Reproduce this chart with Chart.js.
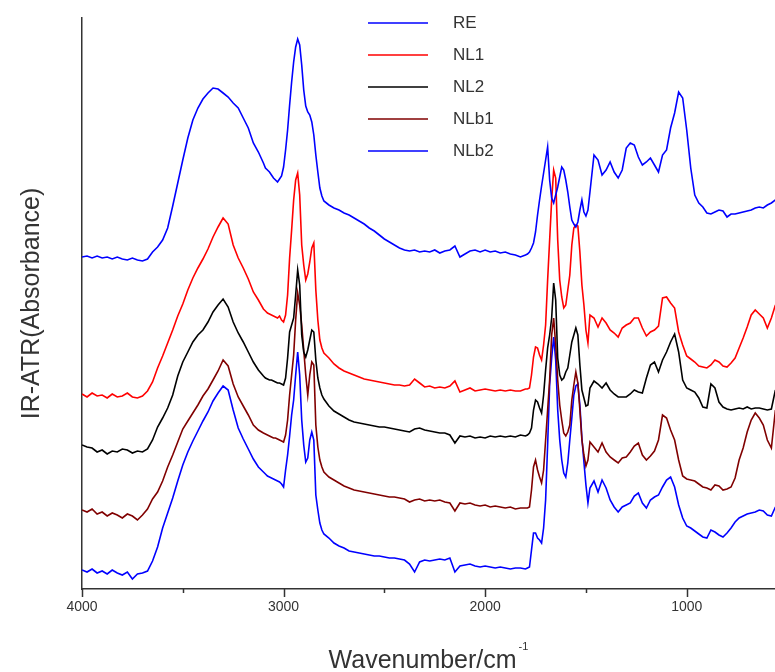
<!DOCTYPE html>
<html>
<head>
<meta charset="utf-8">
<title>IR-ATR spectra</title>
<script src="https://cdn.jsdelivr.net/npm/chart.js@4.4.1/dist/chart.umd.min.js"></script>
<style>
  html, body { margin: 0; padding: 0; background: #fff; }
  canvas { display: block; }
</style>
</head>
<body>
<canvas id="spectra" width="775" height="672"></canvas>
<script>
// Wavenumber grid (cm-1) shared by all spectra
const wavenumbers = [
  4000,3975,3950,3925,3900,3875,3850,3825,3800,3775,3750,3725,3700,3675,3650,3625,3600,3575,3550,3525,3500,3475,3450,3425,3400,3375,3350,3325,3300,3275,3250,3225,3200,3175,3150,3125,3100,
  3090,3080,3070,3060,3050,3040,3030,3020,3010,3000,2990,2980,2970,2960,2950,2940,2930,2920,2910,2900,2890,2880,2870,2860,2850,2840,2830,2820,2810,2800,
  2775,2750,2725,2700,2675,2650,2625,2600,2575,2550,2525,2500,2475,2450,2425,2400,2375,2350,2325,2300,2275,2250,2225,2200,2175,2150,2125,2100,2075,2050,2025,2000,1975,1950,1925,1900,1875,1850,1825,1800,
  1790,1780,1770,1760,1750,1740,1730,1720,1710,1700,1690,1680,1670,1660,1650,1640,1630,1620,1610,1600,1590,1580,1570,1560,1550,1540,1530,1520,1510,1500,1490,1480,
  1460,1440,1420,1400,1380,1360,1340,1320,1300,1280,1260,1240,1220,1200,1180,1160,1140,1120,1100,1080,1060,1040,1020,1000,980,960,940,920,900,880,860,840,820,800,780,760,740,720,700,680,660,640,620,600,580,560
];

// Absorbance traces, arbitrary units, already offset for stacking
const RE = [
  332,333,331,333,331,332,330,332,330,329,331,329,328,330,337,342,349,361,383,406,429,451,469,481,490,496,501,500,496,492,486,481,471,461,446,437,426,
  421,419,417,414,411,409,407,410,413,422,439,459,484,507,527,542,550,544,524,499,483,477,474,467,454,434,417,401,393,388,
  384,381,379,376,374,371,368,365,361,358,354,350,347,344,341,339,338,339,337,338,337,339,336,338,339,343,332,335,338,339,337,339,337,338,336,337,335,334,332,334,
  335,337,341,346,357,374,389,403,416,429,442,409,391,386,394,402,412,422,419,409,397,382,369,365,362,367,379,389,377,373,379,397,
  434,429,414,419,427,417,411,419,441,446,444,432,424,427,431,424,417,434,439,461,476,497,491,459,421,394,386,382,376,375,377,379,378,372,375,375,376,377,378,379,381,382,381,384,386,389
];
const NL1 = [
  195,192,196,193,194,191,195,192,193,196,192,191,193,198,207,221,233,246,259,273,285,299,311,321,330,340,352,362,371,365,344,331,321,310,297,289,280,
  278,276,275,274,273,272,271,273,269,267,274,294,331,359,389,409,416,394,344,324,309,315,327,341,346,299,269,249,241,236,
  231,225,221,218,216,214,212,210,209,208,207,206,205,204,204,203,204,210,206,202,203,201,202,201,203,208,197,199,201,198,199,200,199,198,199,198,199,198,198,200,
  200,201,214,232,242,241,234,229,244,264,309,349,389,419,411,349,309,292,281,284,299,314,344,361,364,363,337,304,284,259,246,274,
  271,262,271,266,259,256,252,261,264,266,271,271,261,253,257,259,263,291,292,286,281,257,244,233,230,227,223,222,221,224,229,227,223,222,226,231,241,251,262,274,279,275,271,261,271,284
];
const NL2 = [
  144,142,141,137,139,135,138,137,140,139,136,138,137,140,149,162,171,181,194,213,227,237,247,254,259,267,277,284,290,282,267,256,247,237,227,219,213,
  211,210,209,209,208,207,206,206,205,204,211,231,257,264,271,294,319,304,254,237,232,239,249,259,257,229,211,201,194,190,
  183,178,175,172,169,167,166,165,164,163,162,162,161,160,159,158,157,160,161,159,158,157,156,156,154,146,153,152,153,151,152,151,153,152,153,152,153,152,154,153,
  154,156,161,179,189,187,181,176,194,219,241,254,271,306,289,231,214,209,211,217,221,234,247,254,261,254,224,199,191,183,184,201,
  208,205,201,206,199,195,192,192,192,195,199,197,196,211,224,227,217,229,237,247,255,237,209,201,199,197,191,182,181,205,201,187,182,180,179,180,181,180,182,180,181,181,180,179,180,199
];
const NLb1 = [
  79,77,80,75,77,73,76,74,71,75,73,69,74,80,90,97,108,122,134,147,160,168,176,184,193,200,209,218,229,223,205,192,183,174,164,159,156,
  155,154,153,152,151,151,150,149,148,147,154,169,194,214,234,269,296,284,264,239,214,194,214,227,224,164,142,129,122,117,
  112,109,106,103,101,99,98,97,96,95,94,93,92,92,91,90,87,89,90,88,89,88,89,87,86,78,86,85,86,84,83,84,82,83,82,81,82,80,81,81,
  81,82,99,122,129,119,112,106,119,149,179,209,254,271,244,209,184,169,156,153,157,164,189,204,217,206,179,149,134,123,129,147,
  142,137,146,137,132,129,126,131,132,137,143,146,134,129,133,138,149,174,171,159,149,129,113,110,109,108,105,102,101,99,104,103,99,100,102,111,129,141,157,169,176,171,164,149,141,179
];
const NLb2 = [
  19,17,20,16,18,15,19,16,14,17,10,15,16,18,28,42,61,76,91,108,124,137,148,158,168,177,188,196,203,199,179,161,150,140,130,122,117,
  115,113,112,111,110,109,108,107,105,102,119,134,153,174,189,214,237,214,169,144,127,131,149,157,149,94,79,66,59,55,
  51,46,43,41,38,37,36,35,34,33,33,32,31,31,30,29,25,17,27,29,28,29,30,29,31,17,23,24,25,23,22,23,22,21,22,21,20,21,21,20,
  21,22,39,56,56,51,49,46,61,89,144,204,231,252,229,179,149,129,116,112,126,149,171,194,203,205,184,151,127,104,86,101,
  108,97,109,101,89,82,77,82,84,86,93,96,86,81,89,92,94,102,109,112,102,84,71,63,61,58,55,52,51,59,57,54,52,56,61,67,71,73,75,76,77,79,78,74,73,82
];

const seriesNames = ['RE', 'NL1', 'NL2', 'NLb1', 'NLb2'];
const seriesColors = ['#0000ff', '#ff0000', '#000000', '#800000', '#0000ff'];
const xTicks = [4000, 3500, 3000, 2500, 2000, 1500, 1000];
const xLabelled = [4000, 3000, 2000, 1000];

const FONT = '"Liberation Sans", Arial, sans-serif';
const INK = '#333';

const spectra = [RE, NL1, NL2, NLb1, NLb2];
const datasets = spectra.map((vals, i) => ({
  label: seriesNames[i],
  data: vals.map((v, j) => ({ x: wavenumbers[j], y: v })),
  borderColor: seriesColors[i],
  borderWidth: 1.6,
  pointRadius: 0,
  tension: 0,
  fill: false
}));

// legend stacked inside the plot, top centre
const legendInside = {
  id: 'legendInside',
  afterDatasetsDraw(chart) {
    const ctx = chart.ctx;
    ctx.save();
    ctx.font = '17px ' + FONT;
    ctx.textBaseline = 'middle';
    chart.data.datasets.forEach((ds, i) => {
      const y = 23 + i * 32;
      ctx.strokeStyle = ds.borderColor;
      ctx.lineWidth = 1.5;
      ctx.beginPath();
      ctx.moveTo(368, y);
      ctx.lineTo(428, y);
      ctx.stroke();
      ctx.fillStyle = INK;
      ctx.fillText(ds.label, 453, y);
    });
    ctx.restore();
  }
};

// outward tick marks (long at labelled values) and the x title with superscript
const axisDecor = {
  id: 'axisDecor',
  afterDraw(chart) {
    const { ctx, chartArea } = chart;
    const x = chart.scales.x;
    ctx.save();
    ctx.strokeStyle = INK;
    ctx.lineWidth = 1.5;
    xTicks.forEach(v => {
      const px = Math.round(x.getPixelForValue(v)) + 0.5;
      const len = xLabelled.includes(v) ? 8 : 4;
      ctx.beginPath();
      ctx.moveTo(px, chartArea.bottom);
      ctx.lineTo(px, chartArea.bottom + len);
      ctx.stroke();
    });

    const main = 'Wavenumber/cm';
    const sup = '-1';
    ctx.fillStyle = INK;
    ctx.textBaseline = 'alphabetic';
    ctx.font = '25px ' + FONT;
    const w1 = ctx.measureText(main).width;
    ctx.font = '11px ' + FONT;
    const w2 = ctx.measureText(sup).width;
    const cx = (chartArea.left + chartArea.right) / 2;
    const left = cx - (w1 + w2 + 2) / 2;
    ctx.font = '25px ' + FONT;
    ctx.fillText(main, left, 668);
    ctx.font = '11px ' + FONT;
    ctx.fillText(sup, left + w1 + 2, 650);
    ctx.restore();
  }
};

new Chart(document.getElementById('spectra'), {
  type: 'line',
  data: { datasets },
  options: {
    responsive: false,
    animation: false,
    layout: { padding: { top: 18, right: 0, bottom: 0, left: 0 } },
    plugins: {
      legend: { display: false },
      tooltip: { enabled: false }
    },
    scales: {
      x: {
        type: 'linear',
        reverse: true,
        min: 562,
        max: 4000,
        afterBuildTicks(scale) {
          scale.ticks = xTicks.map(v => ({ value: v }));
        },
        afterFit(scale) { scale.height = 83; },
        ticks: {
          autoSkip: false,
          maxRotation: 0,
          padding: 10,
          color: INK,
          font: { family: FONT, size: 14 },
          callback: v => (xLabelled.includes(v) ? String(v) : '')
        },
        grid: { display: true, drawOnChartArea: false, drawTicks: false },
        border: { display: true, color: INK, width: 1.5 }
      },
      y: {
        min: 0,
        max: 571,
        afterFit(scale) { scale.width = 82; },
        ticks: { display: false },
        grid: { display: false },
        border: { display: true, color: INK, width: 1.5 },
        title: {
          display: true,
          text: 'IR-ATR(Absorbance)',
          color: INK,
          font: { family: FONT, size: 25 },
          padding: { top: 17, bottom: 0 }
        }
      }
    }
  },
  plugins: [legendInside, axisDecor]
});
</script>
</body>
</html>
